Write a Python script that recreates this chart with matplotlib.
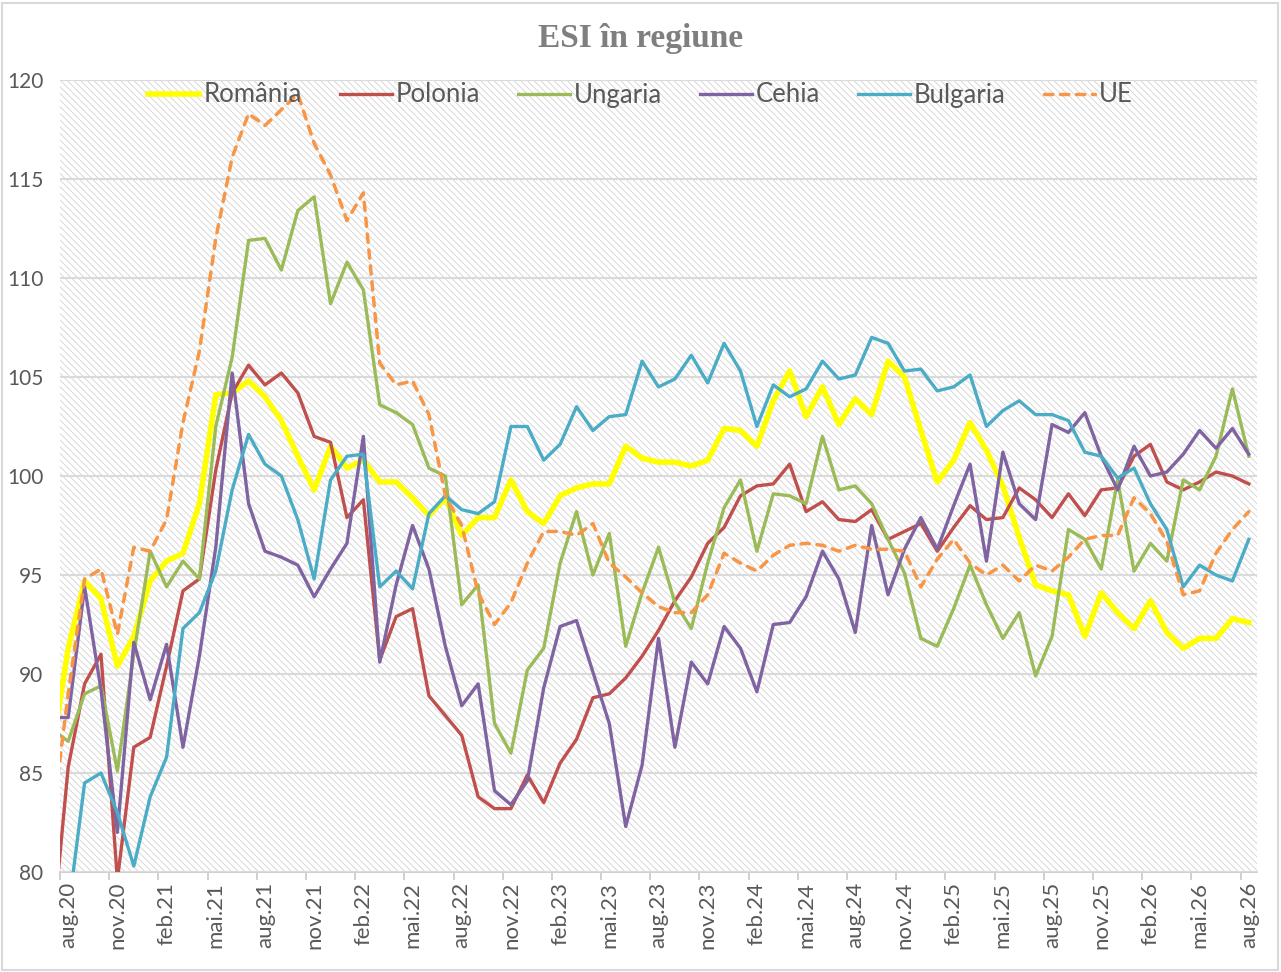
import numpy as np
import matplotlib
matplotlib.use("Agg")
import matplotlib.pyplot as plt
from matplotlib.patches import Rectangle

# monthly ESI values, first value = iul.20 (just left of the visible axis)
romania = [86.0, 91.3, 94.7, 93.8, 90.4, 91.9, 94.7, 95.7, 96.1, 98.6, 104.1, 104.2, 104.8, 104.0, 102.8, 101.0,
           99.3, 101.5, 100.4, 100.8, 99.7, 99.7, 98.9, 98.0, 98.9, 97.0, 97.9, 97.9, 99.8, 98.2, 97.6, 99.0,
           99.4, 99.6, 99.6, 101.5, 100.9, 100.7, 100.7, 100.5, 100.8, 102.4, 102.3, 101.5, 103.8, 105.3, 103.0,
           104.5, 102.6, 103.9, 103.1, 105.8, 105.0, 102.3, 99.7, 100.8, 102.7, 101.3, 99.5, 96.9, 94.5, 94.2,
           94.0, 91.9, 94.1, 93.1, 92.3, 93.7, 92.1, 91.3, 91.8, 91.8, 92.8, 92.6]
polonia = [76.5, 85.3, 89.5, 91.0, 79.6, 86.3, 86.8, 90.4, 94.2, 94.8, 100.3, 104.2, 105.6, 104.6, 105.2, 104.2,
           102.0, 101.7, 97.9, 98.8, 90.7, 92.9, 93.3, 88.9, 87.9, 86.9, 83.8, 83.2, 83.2, 84.9, 83.5, 85.5,
           86.7, 88.8, 89.0, 89.8, 90.9, 92.2, 93.7, 94.9, 96.6, 97.4, 99.0, 99.5, 99.6, 100.6, 98.2, 98.7,
           97.8, 97.7, 98.3, 96.8, 97.2, 97.6, 96.2, 97.4, 98.5, 97.8, 97.9, 99.4, 98.8, 97.9, 99.1, 98.0,
           99.3, 99.4, 101.0, 101.6, 99.7, 99.3, 99.7, 100.2, 100.0, 99.6]
ungaria = [87.2, 86.6, 89.0, 89.4, 85.1, 91.0, 96.2, 94.4, 95.7, 94.8, 102.5, 106.0, 111.9, 112.0, 110.4, 113.4,
           114.1, 108.7, 110.8, 109.4, 103.6, 103.2, 102.6, 100.4, 100.0, 93.5, 94.5, 87.5, 86.0, 90.2, 91.3,
           95.6, 98.2, 95.0, 97.1, 91.4, 94.1, 96.4, 93.6, 92.3, 95.6, 98.4, 99.8, 96.2, 99.1, 99.0, 98.6,
           102.0, 99.3, 99.5, 98.6, 96.8, 95.1, 91.8, 91.4, 93.3, 95.5, 93.5, 91.8, 93.1, 89.9, 91.9, 97.3,
           96.8, 95.3, 99.8, 95.2, 96.6, 95.7, 99.8, 99.3, 101.0, 104.4, 101.0]
cehia = [87.8, 87.8, 94.4, 89.2, 82.0, 91.6, 88.7, 91.5, 86.3, 90.9, 96.4, 105.2, 98.6, 96.2, 95.9, 95.5, 93.9,
         95.3, 96.6, 102.0, 90.6, 94.5, 97.5, 95.3, 91.4, 88.4, 89.5, 84.1, 83.4, 84.6, 89.3, 92.4, 92.7, 90.1,
         87.5, 82.3, 85.4, 91.8, 86.3, 90.6, 89.5, 92.4, 91.3, 89.1, 92.5, 92.6, 93.9, 96.2, 94.8, 92.1, 97.5,
         94.0, 96.3, 97.9, 96.3, 98.5, 100.6, 95.7, 101.2, 98.6, 97.8, 102.6, 102.2, 103.2, 101.0, 99.3, 101.5,
         100.0, 100.2, 101.1, 102.3, 101.4, 102.4, 101.1]
bulgaria = [76.0, 78.0, 84.5, 85.0, 83.0, 80.3, 83.8, 85.8, 92.3, 93.1, 95.2, 99.3, 102.1, 100.6, 100.0, 97.8,
            94.8, 99.8, 101.0, 101.1, 94.4, 95.2, 94.3, 98.1, 99.0, 98.3, 98.1, 98.7, 102.5, 102.5, 100.8, 101.6,
            103.5, 102.3, 103.0, 103.1, 105.8, 104.5, 104.9, 106.1, 104.7, 106.7, 105.3, 102.5, 104.6, 104.0,
            104.4, 105.8, 104.9, 105.1, 107.0, 106.7, 105.3, 105.4, 104.3, 104.5, 105.1, 102.5, 103.3, 103.8,
            103.1, 103.1, 102.8, 101.2, 101.0, 99.9, 100.4, 98.6, 97.3, 94.4, 95.5, 95.0, 94.7, 96.8]
ue = [82.4, 89.0, 94.8, 95.3, 92.0, 96.4, 96.2, 97.8, 102.7, 106.3, 112.0, 116.1, 118.3, 117.7, 118.5, 119.3,
      116.8, 115.2, 112.9, 114.3, 105.7, 104.6, 104.8, 103.1, 99.0, 97.5, 94.1, 92.5, 93.6, 95.6, 97.2, 97.2,
      97.0, 97.6, 95.6, 94.9, 94.1, 93.4, 93.1, 93.1, 94.0, 96.1, 95.6, 95.2, 96.0, 96.5, 96.6, 96.5, 96.2,
      96.5, 96.3, 96.3, 96.2, 94.4, 95.8, 96.8, 95.6, 95.0, 95.5, 94.7, 95.5, 95.2, 95.9, 96.8, 97.0, 97.0,
      98.9, 98.1, 96.7, 94.0, 94.2, 96.1, 97.3, 98.2]

tick_labels = ['aug.20', 'nov.20', 'feb.21', 'mai.21', 'aug.21', 'nov.21', 'feb.22', 'mai.22', 'aug.22',
               'nov.22', 'feb.23', 'mai.23', 'aug.23', 'nov.23', 'feb.24', 'mai.24', 'aug.24', 'nov.24',
               'feb.25', 'mai.25', 'aug.25', 'nov.25', 'feb.26', 'mai.26', 'aug.26']

names = ['România', 'Polonia', 'Ungaria', 'Cehia', 'Bulgaria', 'UE']
series = [romania, polonia, ungaria, cehia, bulgaria, ue]
colors = ['#FFFF00', '#C0504D', '#9BBB59', '#8064A2', '#4BACC6', '#F79646']

plt.rcParams['font.family'] = ['Lato', 'DejaVu Sans']
plt.rcParams['hatch.linewidth'] = 0.6

fig = plt.figure(figsize=(12.81, 9.72), dpi=100)
ax = fig.add_axes([60 / 1281, 1 - 872 / 972, 1197 / 1281, 792 / 972])

# hatched plot background
ax.add_patch(Rectangle((0, 0), 1, 1, transform=ax.transAxes, facecolor='white',
                       edgecolor='#D2D2D2', hatch='\\\\\\\\\\', linewidth=0, zorder=0))

n_months = len(tick_labels) * 3 - 2
handles = []
for name, vals, col in zip(names, series, colors):
    x = np.arange(len(vals)) - 1
    if name == 'UE':
        ln, = ax.plot(x, vals, color=col, lw=2.5, dashes=(2.4, 2.2), dash_capstyle='round', label=name, zorder=3)
    elif name == 'România':
        ln, = ax.plot(x, vals, color=col, lw=4.0, label=name, zorder=3)
    else:
        ln, = ax.plot(x, vals, color=col, lw=2.4, label=name, zorder=3)
    handles.append(ln)

ax.set_xlim(-0.5, n_months - 0.5)
ax.set_ylim(80, 120)
ax.set_yticks(np.arange(80, 121, 5))
ax.yaxis.grid(True, color='#DADADA', lw=1.5, zorder=1)
ax.set_axisbelow(False)

ax.set_xticks(np.arange(0, n_months, 3))
ax.set_xticklabels(tick_labels, rotation=90)
ax.set_xticks(np.arange(0, n_months, 3) - 0.5, minor=True)
ax.tick_params(axis='x', which='major', length=0, pad=7, labelsize=16, labelcolor='#595959')
ax.tick_params(axis='x', which='minor', length=6, width=1.4, color='#D0D0D0')
ax.tick_params(axis='y', length=0, pad=12, labelsize=15, labelcolor='#595959')

for s in ['left', 'right', 'top']:
    ax.spines[s].set_visible(False)
ax.spines['bottom'].set_color('#D0D0D0')
ax.spines['bottom'].set_linewidth(1.4)

fig.text(0.5, 1 - 38 / 972, 'ESI în regiune', ha='center', va='center', fontsize=24,
         fontweight='bold', color='#7F7F7F', family=['Liberation Serif', 'DejaVu Serif'])

fig.legend(handles=handles, loc='center', bbox_to_anchor=(0.5, 1 - 95 / 972), ncol=6, frameon=False,
           fontsize=18.5, labelcolor='#595959', handlelength=2.0, handletextpad=0.15, columnspacing=1.5)

fig.patches.append(Rectangle((2 / 1281, 2 / 972), 1 - 5 / 1281, 1 - 5 / 972, transform=fig.transFigure,
                             fill=False, edgecolor='#D9D9D9', lw=1.5))

fig.savefig('out.png', dpi=100, facecolor='white')
